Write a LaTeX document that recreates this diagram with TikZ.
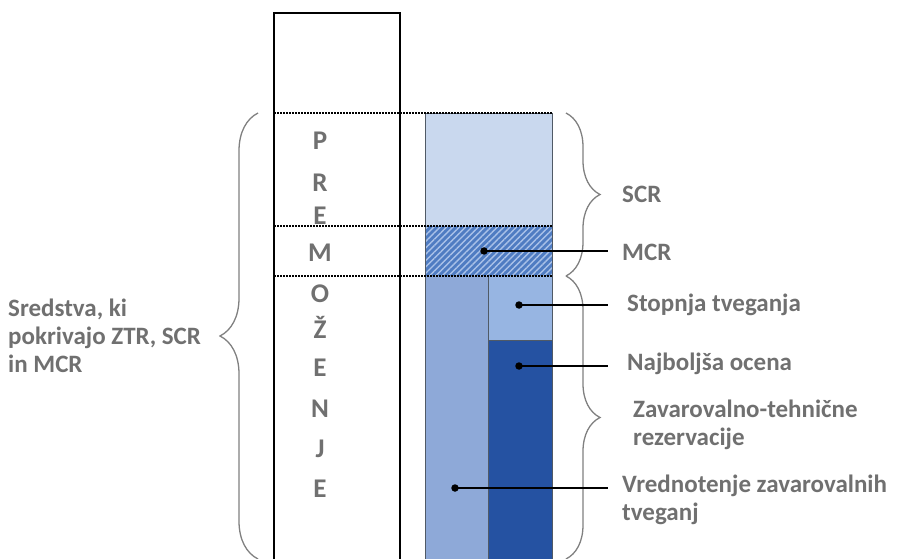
\documentclass[tikz,border=0pt]{standalone}
\usepackage{fontspec}
\setmainfont{Carlito}
\usetikzlibrary{decorations.pathreplacing,patterns.meta}
\definecolor{txtgray}{HTML}{707070}
\definecolor{scrfill}{HTML}{C9D8EE}
\definecolor{mcrfill}{HTML}{4F7CC2}
\definecolor{mcrline}{HTML}{A9C1E8}
\definecolor{valfill}{HTML}{8EA9D8}
\definecolor{riskfill}{HTML}{97B5E2}
\definecolor{bestfill}{HTML}{2552A2}
\definecolor{boxline}{HTML}{505A66}
\begin{document}
\begin{tikzpicture}[x=1pt,y=-1pt,
  lbl/.style={font=\bfseries\fontsize{25}{28}\selectfont, text=txtgray, anchor=west, inner sep=0pt, align=left},
  letter/.style={font=\bfseries\fontsize{27}{28}\selectfont, text=txtgray, inner sep=0pt},
  dotline/.style={line width=1.6pt, dash pattern=on 1.6pt off 1.4pt},
  pin/.style={circle, fill=black, inner sep=0pt, minimum size=7.5pt},
  leader/.style={line width=1.3pt, black},
  bracestyle/.style={draw=black!50, line width=1.3pt, decorate},
  part/.style={draw=boxline, line width=0.8pt}]
\useasboundingbox (0,0) rectangle (906,559);

% tall asset column
\draw[line width=1.4pt] (274,600) -- (274,13) -- (400,13) -- (400,600);

% stacked requirement column
\fill[scrfill] (425,113) rectangle (552,226);
\fill[mcrfill] (425,226) rectangle (552,276);
\fill[pattern={Lines[angle=45,distance=4.5pt,line width=1.4pt]}, pattern color=mcrline] (425,226) rectangle (552,276);
\fill[valfill] (425,276) rectangle (488,600);
\fill[riskfill] (488,276) rectangle (552,340);
\fill[bestfill] (488,340) rectangle (552,600);
\draw[part] (425,600) -- (425,113) -- (552,113) -- (552,600);
\draw[part] (488,276) -- (488,600);
\draw[part] (488,340) -- (552,340);

% dotted level lines
\draw[dotline] (274,113) -- (552,113);
\draw[dotline] (274,226) -- (552,226);
\draw[dotline] (274,276) -- (552,276);

% vertical word
\foreach \ch/\yy [count=\i] in {P/141,R/183,E/216,M/253,O/294,Ž/327,E/368,N/409,J/449,E/489}
  \node[letter] (ch\i) at (320,\yy) {\ch};

% braces
\draw[bracestyle, decoration={brace, amplitude=34pt}] (566,113) -- (566,276);
\draw[bracestyle, decoration={brace, amplitude=34pt}] (566,276) -- (566,559);
\draw[bracestyle, decoration={brace, amplitude=38pt}] (258,559) -- (258,113);

% labels
\node[lbl] (scr) at (622,194) {SCR};
\node[lbl] (mcr) at (622,252) {MCR};
\node[lbl] (risk) at (627,305) {Stopnja tveganja};
\node[lbl] (best) at (627,364) {Najboljša ocena};
\node[lbl] (tp) at (633,425) {Zavarovalno-tehnične\\rezervacije};
\node[lbl] (val) at (622,500) {Vrednotenje zavarovalnih\\tveganj};
\node[lbl] (assets) at (8,336) {Sredstva, ki\\pokrivajo ZTR, SCR\\in MCR};

% leader lines
\node[pin] (pmcr) at (484,251) {};
\node[pin] (prisk) at (519,305) {};
\node[pin] (pbest) at (519,366) {};
\node[pin] (pval) at (455,488) {};
\coordinate (emcr) at (608,251);
\coordinate (erisk) at (608,305);
\coordinate (ebest) at (608,366);
\coordinate (eval) at (608,488);
\draw[leader] (pmcr.center) -- (emcr);
\draw[leader] (prisk.center) -- (erisk);
\draw[leader] (pbest.center) -- (ebest);
\draw[leader] (pval.center) -- (eval);
\end{tikzpicture}
\end{document}
